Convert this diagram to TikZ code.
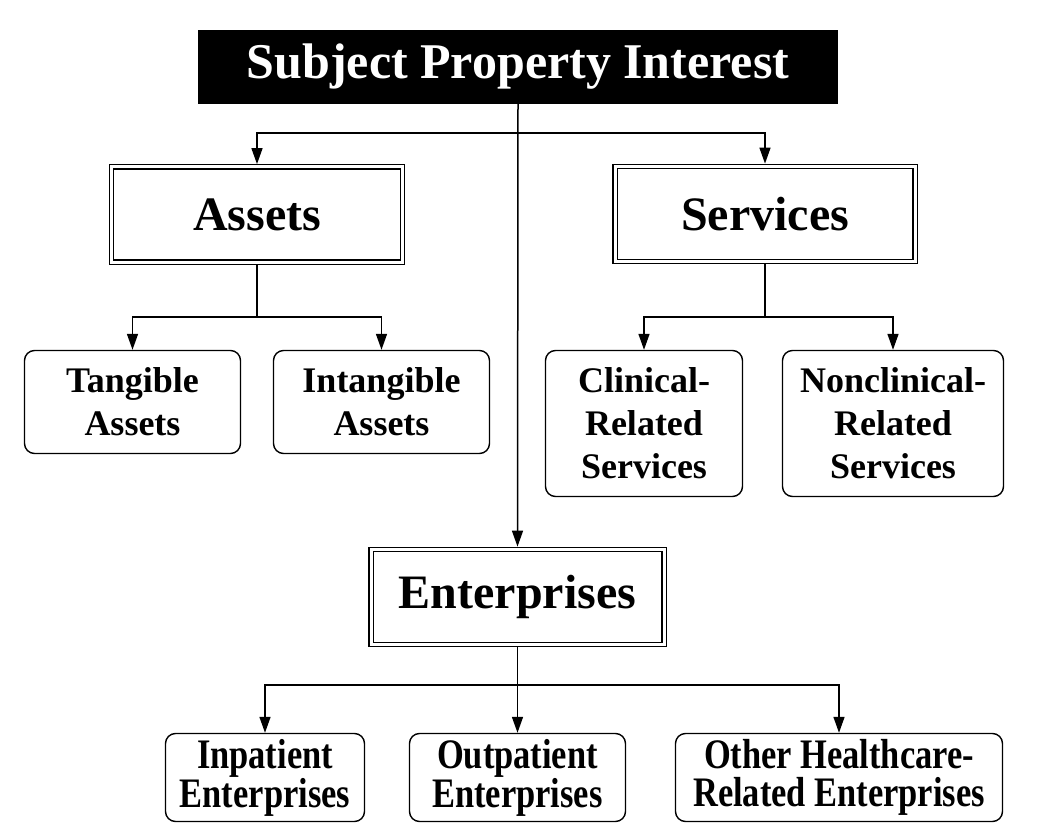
\documentclass[tikz,border=0pt]{standalone}
\usepackage{fontspec}
\setmainfont{Liberation Serif}
\newfontfamily\condfont[FakeStretch=0.82]{Liberation Serif}
\usetikzlibrary{arrows.meta}

\tikzset{
  link/.style={line width=1.5pt},
  arr/.style={link, -{Triangle[length=16pt,width=11pt]}},
  titlebox/.style={fill=black, text=white, inner sep=0pt, minimum width=640pt, minimum height=74pt,
    font=\bfseries\fontsize{50}{55}\selectfont},
  mainbox/.style={draw, double, double distance=3pt, line width=1.4pt, outer sep=2.9pt, inner sep=0pt,
    minimum height=95pt, font=\bfseries\fontsize{48}{54}\selectfont},
  subbox/.style={draw, line width=1.4pt, rounded corners=10pt, align=center, inner sep=0pt,
    font=\bfseries\fontsize{36}{43}\selectfont},
  entbox/.style={draw, line width=1.4pt, rounded corners=10pt, align=center, inner sep=0pt,
    minimum height=88pt, font=\condfont\bfseries\fontsize{42}{38}\selectfont},
}

\begin{document}
\begin{tikzpicture}[x=1pt, y=-1pt]
    \useasboundingbox (0,0) rectangle (1055,840);

    % Bandeau principal
    \node[titlebox] (title) at (518,67) {Subject Property Interest};

    % Trois branches
    \node[mainbox, minimum width=291pt] (assets) at (257,214.5) {Assets};
    \node[mainbox, minimum width=300pt] (services) at (765,214) {Services};
    \node[mainbox, minimum width=293pt] (ent) at (517.5,597) {Enterprises};

    % Sous-catégories
    \node[subbox, minimum width=216pt, minimum height=103pt] (tang) at (132.5,402) {Tangible\\Assets};
    \node[subbox, minimum width=216pt, minimum height=103pt] (intang) at (381.5,402) {Intangible\\Assets};
    \node[subbox, minimum width=197pt, minimum height=146pt] (clin) at (644,423.5) {Clinical-\\Related\\Services};
    \node[subbox, minimum width=221pt, minimum height=146pt] (nonclin) at (893,423.5) {Nonclinical-\\Related\\Services};

    \node[entbox, minimum width=199pt] (inpat) at (265,777.5) {Inpatient\\Enterprises};
    \node[entbox, minimum width=216pt] (outpat) at (517.5,777.5) {Outpatient\\Enterprises};
    \node[entbox, minimum width=327pt] (other) at (839,777.5) {Other Healthcare-\\Related Enterprises};

    % Points de jonction
    \coordinate (jtop) at (518,133);
    \coordinate (jassets) at (257,317);
    \coordinate (jserv) at (765,317);
    \coordinate (jent) at (517.5,685);

    % Liaisons
    \draw[arr] (title.south) -- (ent.north);
    \draw[arr] (jtop) -| (assets.north);
    \draw[arr] (jtop) -| (services.north);

    \draw[link] (assets.south) -- (jassets);
    \draw[arr] (jassets) -| (tang.north);
    \draw[arr] (jassets) -| (intang.north);

    \draw[link] (services.south) -- (jserv);
    \draw[arr] (jserv) -| (clin.north);
    \draw[arr] (jserv) -| (nonclin.north);

    \draw[link] (ent.south) -- (jent);
    \draw[arr] (jent) -| (inpat.north);
    \draw[arr] (jent) -- (outpat.north);
    \draw[arr] (jent) -| (other.north);
\end{tikzpicture}
\end{document}
